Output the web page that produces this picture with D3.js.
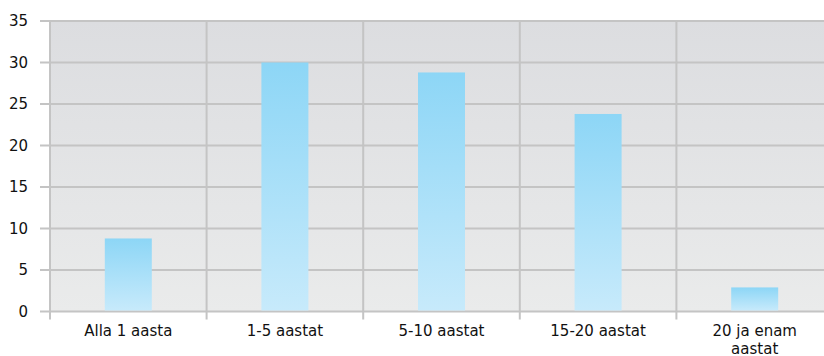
<!DOCTYPE html>
<html>
<head>
<meta charset="utf-8">
<script src="https://cdn.jsdelivr.net/npm/d3@7"></script>
<style>
  html, body { margin: 0; padding: 0; background: #fff; }
  svg { display: block; font-family: "DejaVu Sans", Verdana, sans-serif; }
</style>
</head>
<body>
<svg id="chart" width="824" height="356"></svg>
<script>
const categories = ["Alla 1 aasta", "1-5 aastat", "5-10 aastat", "15-20 aastat", "20 ja enam aastat"];
const values = [8.8, 30, 28.8, 23.8, 2.9];
const yTicks = [0, 5, 10, 15, 20, 25, 30, 35];

const svg = d3.select("#chart");
const margin = { left: 50, top: 21, bottom: 45 };
const plotW = 783;
const plotH = 356 - margin.top - margin.bottom + 0.5;
const fontSize = 15;

const defs = svg.append("defs");
const bg = defs.append("linearGradient").attr("id", "bgGrad")
  .attr("x1", 0).attr("y1", 0).attr("x2", 0).attr("y2", 1);
bg.append("stop").attr("offset", "0%").attr("stop-color", "#dcdde0");
bg.append("stop").attr("offset", "100%").attr("stop-color", "#eaebeb");

const barGrad = defs.append("linearGradient").attr("id", "barGrad")
  .attr("x1", 0).attr("y1", 0).attr("x2", 0).attr("y2", 1);
barGrad.append("stop").attr("offset", "0%").attr("stop-color", "#8dd6f6");
barGrad.append("stop").attr("offset", "100%").attr("stop-color", "#c7eafb");

const x = d3.scaleBand().domain(categories).range([0, plotW]).paddingInner(0).paddingOuter(0);
const y = d3.scaleLinear().domain([0, 35]).range([plotH, 0]);

const g = svg.append("g").attr("transform", `translate(${margin.left},${margin.top})`);

g.append("rect").attr("x", 0).attr("y", 0).attr("width", plotW).attr("height", plotH)
  .attr("fill", "url(#bgGrad)");

// horizontal gridlines with tick stubs on the left
g.selectAll("line.hgrid").data(yTicks).enter().append("line")
  .attr("class", "hgrid")
  .attr("x1", -10).attr("x2", plotW)
  .attr("y1", d => y(d)).attr("y2", d => y(d))
  .attr("stroke", "#c4c4c4").attr("stroke-width", 2);

// vertical category separators extending below the baseline
const seps = categories.map(c => x(c)).concat([plotW]);
g.selectAll("line.vgrid").data(seps).enter().append("line")
  .attr("class", "vgrid")
  .attr("x1", d => d).attr("x2", d => d)
  .attr("y1", 0).attr("y2", plotH + 8)
  .attr("stroke", "#c4c4c4").attr("stroke-width", 2);

// bars
const barW = 47;
g.selectAll("rect.bar").data(values).enter().append("rect")
  .attr("class", "bar")
  .attr("x", (d, i) => x(categories[i]) + x.bandwidth() / 2 - barW / 2)
  .attr("width", barW)
  .attr("y", d => y(d))
  .attr("height", d => y(0) - y(d) - 1)
  .attr("fill", "url(#barGrad)");

// y tick labels
g.selectAll("text.ylab").data(yTicks).enter().append("text")
  .attr("class", "ylab")
  .attr("x", -22).attr("y", d => y(d))
  .attr("dy", "0.36em")
  .attr("text-anchor", "end")
  .attr("font-size", fontSize).attr("fill", "#111")
  .text(d => d);

// category labels, wrapped onto two lines when long
const wrapWidth = 120;
categories.forEach(c => {
  const cx = x(c) + x.bandwidth() / 2;
  const t = g.append("text")
    .attr("x", cx)
    .attr("y", plotH + 24.5)
    .attr("text-anchor", "middle")
    .attr("font-size", fontSize).attr("fill", "#111");
  const words = c.split(" ");
  let line = [];
  let tspan = t.append("tspan").attr("x", cx).attr("dy", 0);
  words.forEach(w => {
    line.push(w);
    tspan.text(line.join(" "));
    if (tspan.node().getComputedTextLength() > wrapWidth && line.length > 1) {
      line.pop();
      tspan.text(line.join(" "));
      line = [w];
      tspan = t.append("tspan").attr("x", cx).attr("dy", 17.5).text(w);
    }
  });
});
</script>
</body>
</html>
